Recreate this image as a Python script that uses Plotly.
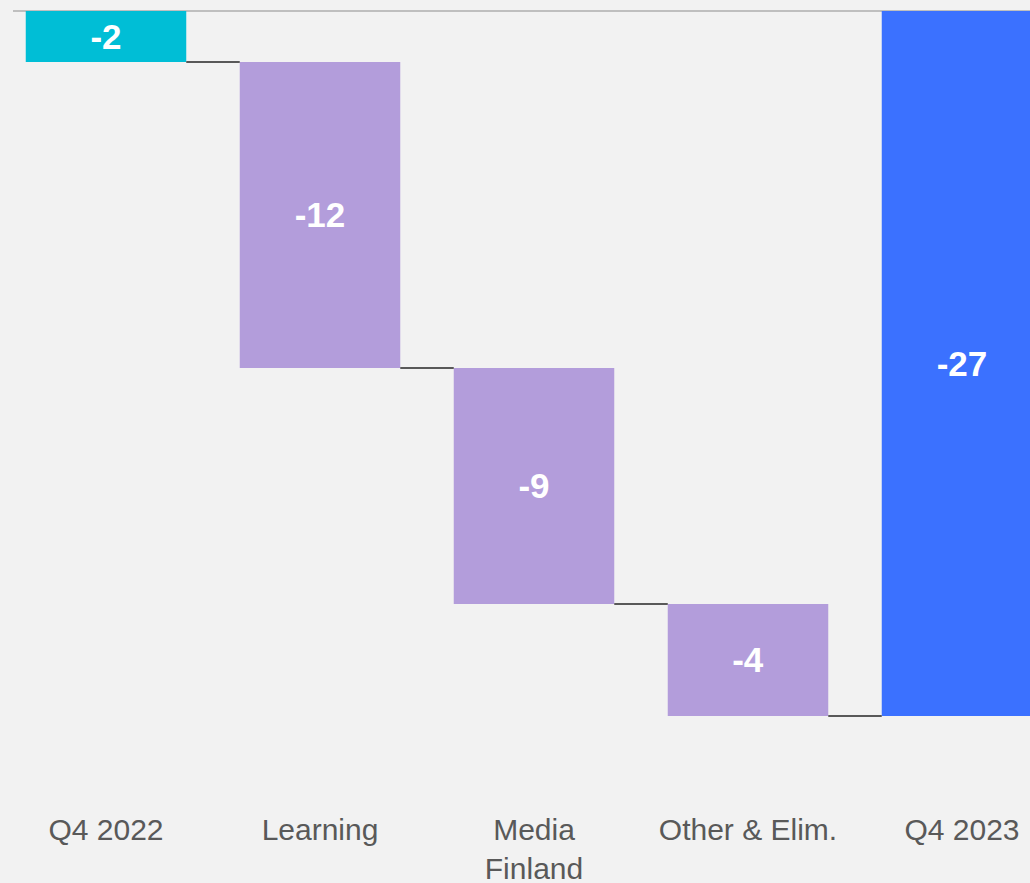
import plotly.graph_objects as go
import numpy as np

categories = ["Q4 2022", "Learning", "Media<br>Finland", "Other & Elim.", "Q4 2023"]
start_value = -1.95
changes = [-11.72, -9.04, -4.29]
colors = ["#00BED6", "#B39DDB", "#B39DDB", "#B39DDB", "#3B71FF"]

steps = [start_value] + changes
cum = np.cumsum(steps)
total = float(cum[-1])

x = list(range(len(categories)))
bases = [0.0] + [float(c) for c in cum[:-1]] + [0.0]
heights = steps + [total]
labels = [f"{round(v):d}" for v in heights]

bar_w = 0.75

fig = go.Figure()
fig.add_trace(go.Bar(
    x=x, y=heights, base=bases, width=bar_w,
    marker=dict(color=colors, line=dict(width=0)),
    text=labels, textposition="inside", insidetextanchor="middle",
    constraintext="none",
    textfont=dict(family="Liberation Sans", size=35, color="white", weight="bold"),
    hoverinfo="skip", showlegend=False,
))

# connectors
cx, cy = [], []
for i, level in enumerate(cum):
    cx += [i + bar_w / 2, i + 1 - bar_w / 2, None]
    cy += [float(level), float(level), None]
fig.add_trace(go.Scatter(x=cx, y=cy, mode="lines",
                         line=dict(color="#595959", width=2),
                         hoverinfo="skip", showlegend=False))

W, H = 1030, 883
ml, mr, mt, mb = 13, 0, 11, 71
plot_w = W - ml - mr
unit_px = 214
r0 = -(106 - ml) / unit_px
r1 = r0 + plot_w / unit_px
px_per_val = 705 / abs(total)
ymin = -(H - mt - mb) / px_per_val

fig.update_layout(
    width=W, height=H,
    margin=dict(l=ml, r=mr, t=mt, b=mb, autoexpand=False),
    paper_bgcolor="#F2F2F2", plot_bgcolor="#F2F2F2",
    xaxis=dict(range=[r0, r1], tickvals=x, ticktext=categories,
               showgrid=False, zeroline=False, showline=False, ticks="",
               ticklabelstandoff=-3,
               tickfont=dict(family="Liberation Sans", size=30, color="#595959")),
    yaxis=dict(range=[ymin, 0], showgrid=False, showticklabels=False,
               zeroline=True, zerolinecolor="#BFBFBF", zerolinewidth=1.5,
               showline=False, ticks=""),
)

fig.write_html("out.html", config={"displayModeBar": False},
               post_script="document.body.style.margin='0';document.body.style.overflow='hidden';")
